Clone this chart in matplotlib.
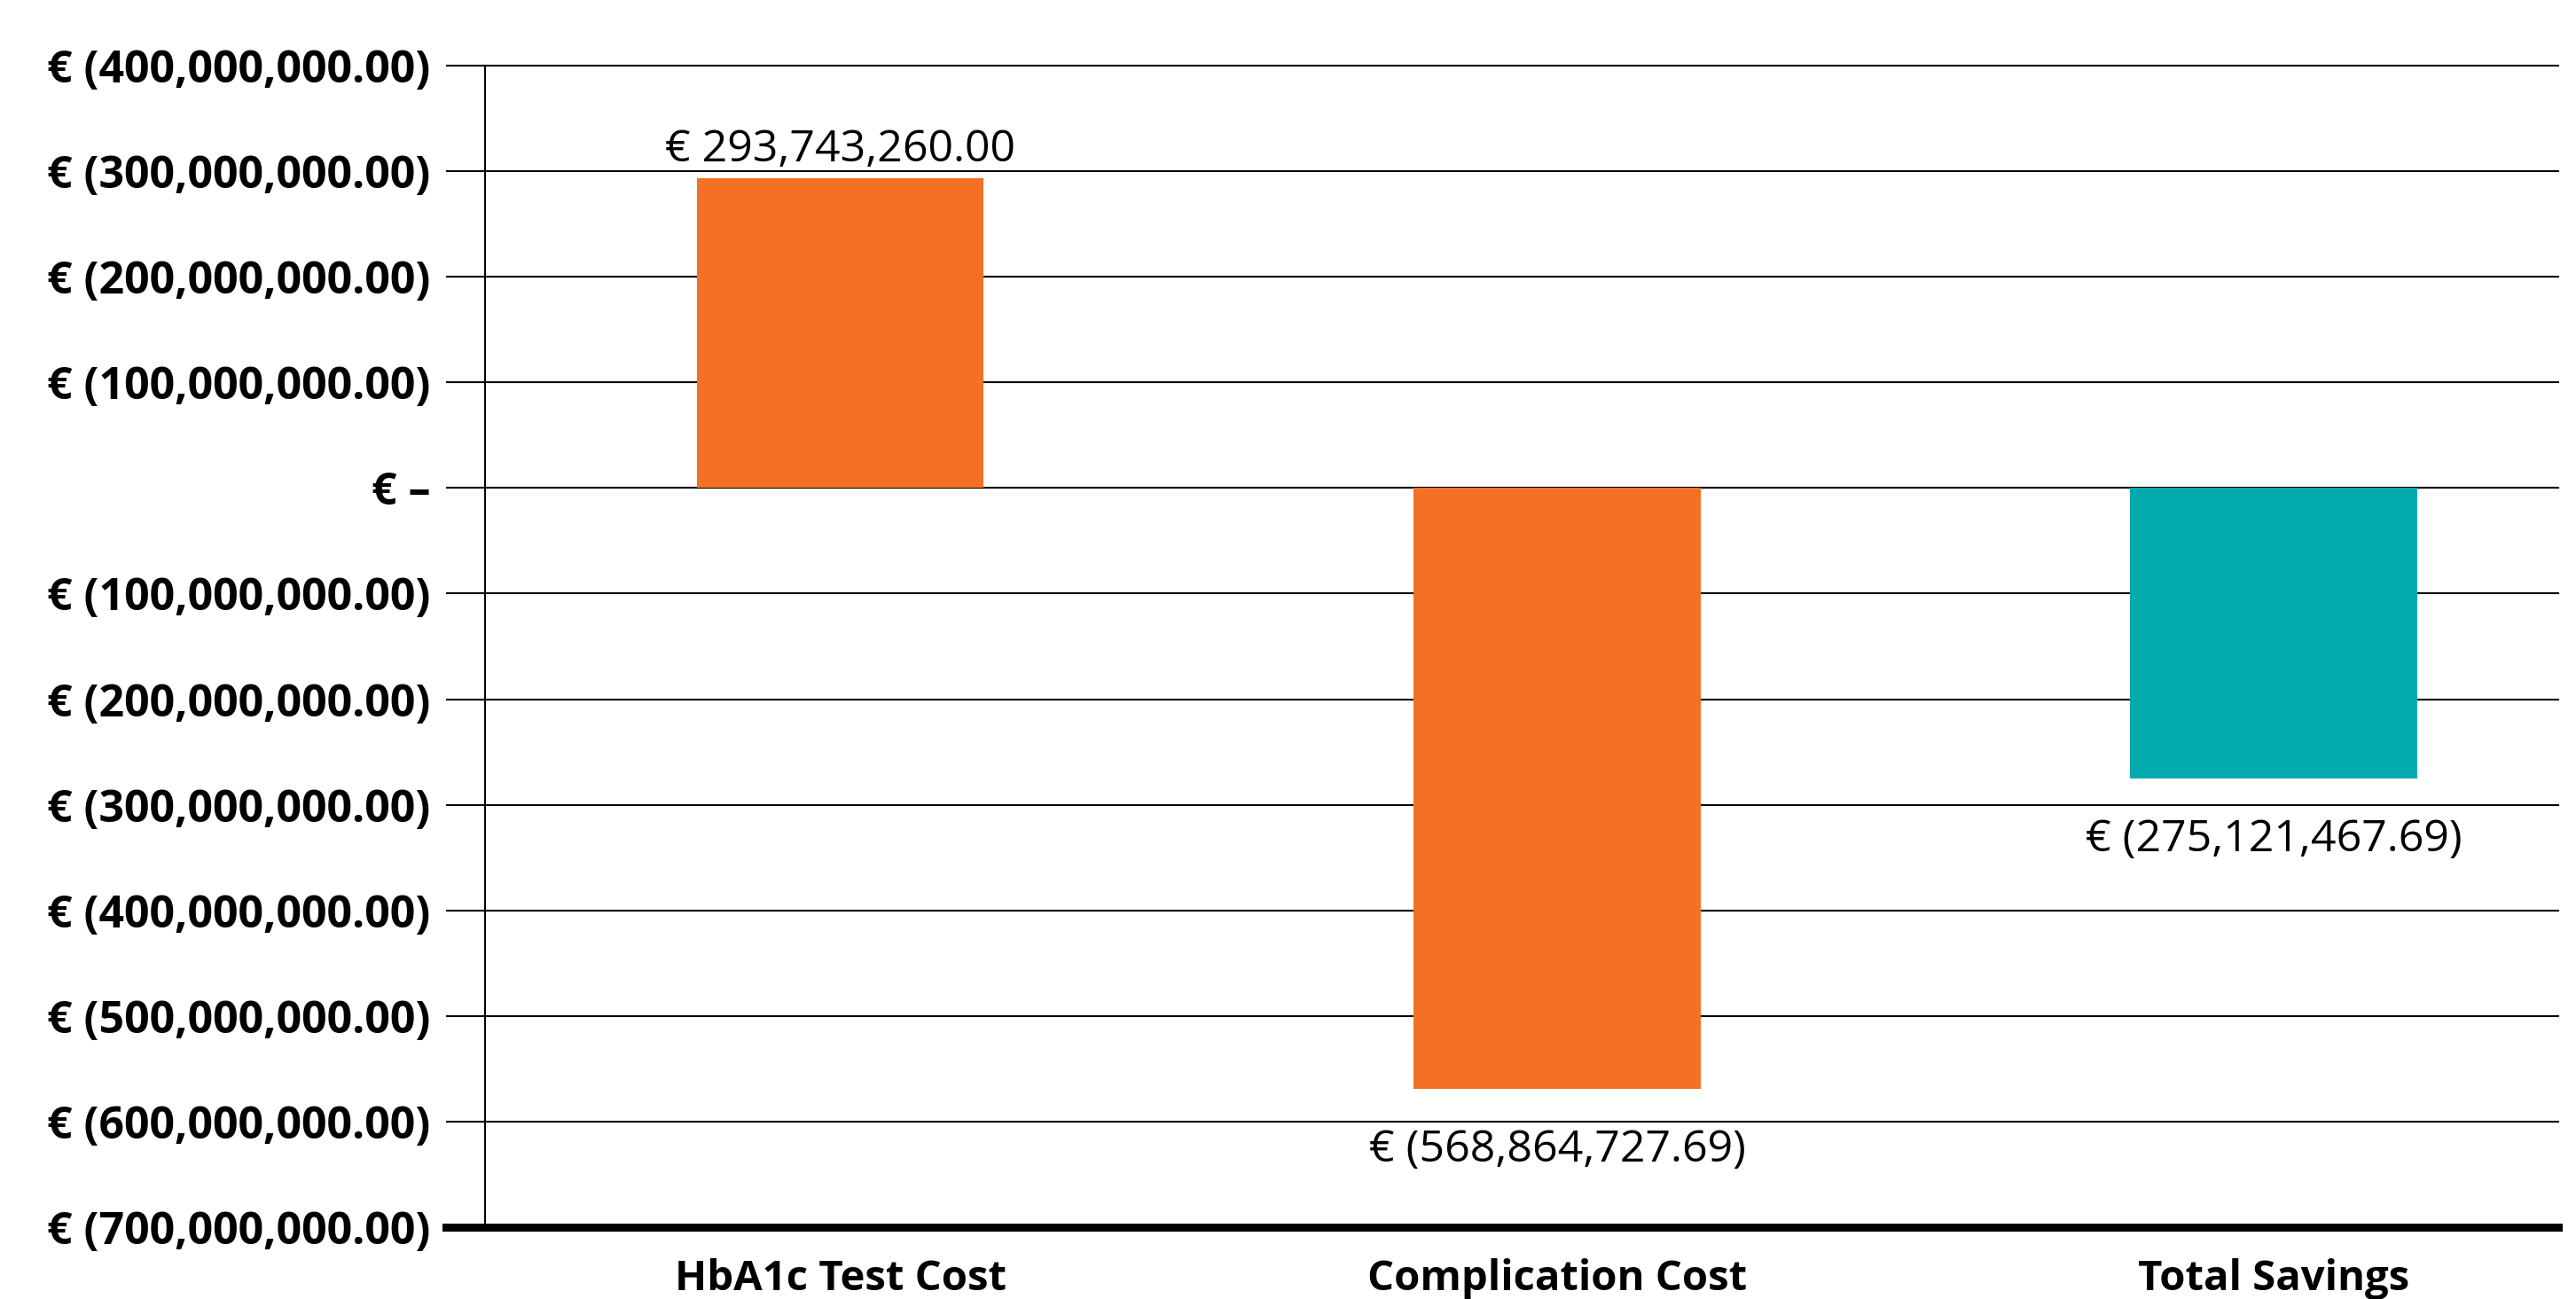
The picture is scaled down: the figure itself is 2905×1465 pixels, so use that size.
import matplotlib
matplotlib.use("Agg")
import matplotlib.pyplot as plt
from matplotlib.ticker import FuncFormatter, MultipleLocator

categories = ["HbA1c Test Cost", "Complication Cost", "Total Savings"]
values = [293743260.00, -568864727.69, -275121467.69]
bar_colors = ["#F37024", "#F37024", "#02AAAE"]
value_labels = ["€ 293,743,260.00", "€ (568,864,727.69)", "€ (275,121,467.69)"]

plt.rcParams['font.family'] = ['Open Sans', 'DejaVu Sans']

fig = plt.figure(figsize=(29.05, 14.65), dpi=100)
ax = fig.add_axes([0.1883, 0.0553, 0.8048, 0.8942])

x = list(range(len(categories)))
ax.bar(x, values, width=0.40, color=bar_colors, zorder=2)

x_lo, x_hi = -0.496, 2.397
ax.set_ylim(-700e6, 400e6)
ax.set_xlim(x_lo, x_hi)
ax.yaxis.set_major_locator(MultipleLocator(100e6))

def fmt(v, pos):
    if abs(v) < 1:
        return "€ –"
    return "€ ({:,.2f})".format(abs(v))

ax.yaxis.set_major_formatter(FuncFormatter(fmt))
ax.grid(axis='y', color='black', linewidth=1.5, zorder=1)
ax.set_axisbelow(True)
for gl in ax.get_ygridlines():
    gl.set_clip_on(False)

for s in ['top', 'right']:
    ax.spines[s].set_visible(False)
ax.spines['left'].set_linewidth(1.5)
ax.spines['bottom'].set_linewidth(6.5)
ax.spines['bottom'].set_zorder(4)
# bottom axis line runs out under the tick mark, as in the reference
ax.spines['bottom'].set_bounds(x_lo - 0.0545, x_hi)

ax.tick_params(axis='y', length=31.5, width=1.5, pad=13, labelsize=36)
ax.tick_params(axis='x', length=0, pad=25, labelsize=34)
for lab in ax.get_yticklabels():
    lab.set_fontweight('bold')
ax.set_xticks(x)
ax.set_xticklabels(categories, fontweight='bold')

for xi, v, lab in zip(x, values, value_labels):
    if v >= 0:
        ax.annotate(lab, (xi, v), xytext=(0, 19), textcoords='offset pixels',
                    ha='center', va='baseline', fontsize=36)
    else:
        ax.annotate(lab, (xi, v), xytext=(0, -82), textcoords='offset pixels',
                    ha='center', va='baseline', fontsize=36)

fig.savefig("out.png", dpi=100)
